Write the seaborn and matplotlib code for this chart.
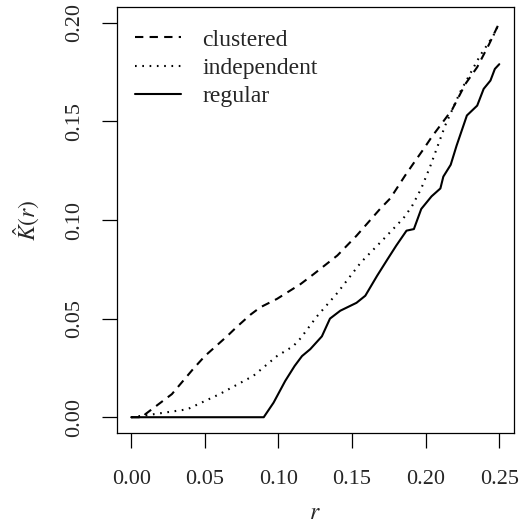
import numpy as np
import pandas as pd
import matplotlib
matplotlib.use("Agg")
import matplotlib.pyplot as plt
import seaborn as sns

# ---- data ----
clustered_r = [0.0, 0.008, 0.0095, 0.0276, 0.042, 0.050, 0.065, 0.072, 0.081, 0.0876, 0.099,
               0.115, 0.124, 0.140, 0.153, 0.169, 0.176, 0.186, 0.192, 0.1986, 0.204,
               0.211, 0.218, 0.227, 0.235, 0.243, 0.25]
clustered_k = [0.0, 0.0, 0.0015, 0.0117, 0.0244, 0.031, 0.041, 0.046, 0.052, 0.0557, 0.060,
               0.0675, 0.0726, 0.082, 0.092, 0.1056, 0.111, 0.1225, 0.129, 0.136, 0.142,
               0.149, 0.156, 0.169, 0.1775, 0.189, 0.200]

independent_r = [0.0, 0.015, 0.038, 0.060, 0.083, 0.099, 0.110, 0.115, 0.126, 0.140, 0.156,
                 0.171, 0.185, 0.1907, 0.197, 0.203, 0.2133, 0.2235, 0.237, 0.246, 0.25]
independent_k = [0.0, 0.0015, 0.004, 0.0117, 0.021, 0.031, 0.036, 0.040, 0.051, 0.063, 0.0785,
                 0.090, 0.101, 0.107, 0.116, 0.127, 0.148, 0.165, 0.1834, 0.1935, 0.200]

regular_r = [0.0, 0.090, 0.0967, 0.1046, 0.111, 0.116, 0.1216, 0.1295, 0.135, 0.142, 0.153,
             0.159, 0.167, 0.174, 0.180, 0.187, 0.192, 0.197, 0.204, 0.210, 0.212, 0.217,
             0.221, 0.228, 0.235, 0.2394, 0.244, 0.247, 0.25]
regular_k = [0.0, 0.0, 0.0074, 0.0184, 0.026, 0.031, 0.0345, 0.041, 0.050, 0.054, 0.058,
             0.0616, 0.0717, 0.080, 0.087, 0.0946, 0.0954, 0.1056, 0.112, 0.116, 0.122, 0.128,
             0.1377, 0.153, 0.158, 0.1665, 0.1707, 0.1766, 0.179]

series_names = ["clustered", "independent", "regular"]
x_ticks = [0.00, 0.05, 0.10, 0.15, 0.20, 0.25]
y_ticks = [0.00, 0.05, 0.10, 0.15, 0.20]

# ---- build long-form table ----
frames = []
for name, rr, kk in zip(series_names,
                        [clustered_r, independent_r, regular_r],
                        [clustered_k, independent_k, regular_k]):
    frames.append(pd.DataFrame({"r": rr, "K": kk, "series": name}))
df = pd.concat(frames, ignore_index=True)

sns.set_style("white")
plt.rcParams["font.family"] = ["Liberation Serif", "DejaVu Serif"]
plt.rcParams["mathtext.fontset"] = "stix"

fig = plt.figure(figsize=(5.19, 5.27), dpi=100)
ax = fig.add_axes([116.5 / 519, 1 - 433 / 527, (514 - 116.5) / 519, (433 - 7) / 527])

sns.lineplot(data=df, x="r", y="K", style="series", style_order=series_names,
             dashes={"clustered": (4, 3), "independent": (0.8, 2.7), "regular": ""},
             color="black", linewidth=1.5, sort=False, estimator=None, ax=ax)

ax.set_xlim(-0.01, 0.26)
ax.set_ylim(-0.008, 0.208)
ax.set_xticks(x_ticks)
ax.set_yticks(y_ticks)
ax.set_xticklabels([f"{v:.2f}" for v in x_ticks])
ax.set_yticklabels([f"{v:.2f}" for v in y_ticks], rotation=90, va="center")
ax.tick_params(axis="both", which="major", direction="out", length=11, width=0.9,
               color="black", labelsize=16, bottom=True, left=True)
ax.tick_params(axis="x", pad=16)
ax.tick_params(axis="y", pad=12)

for sp in ax.spines.values():
    sp.set_visible(True)
    sp.set_color("black")
    sp.set_linewidth(0.9)

ax.set_xlabel(r"$r$", fontsize=17, labelpad=10)
ax.set_ylabel(r"$\hat{K}(r)$", fontsize=17, labelpad=17)

handles, labels = ax.get_legend_handles_labels()
leg = ax.legend(handles, labels, loc="upper left", bbox_to_anchor=(135 / 519, 1 - 29 / 527),
                bbox_transform=fig.transFigure, frameon=False, fontsize=17,
                handlelength=1.95, handletextpad=0.9, labelspacing=0.29, borderpad=0,
                borderaxespad=0)

fig.savefig("out.png", dpi=100)
